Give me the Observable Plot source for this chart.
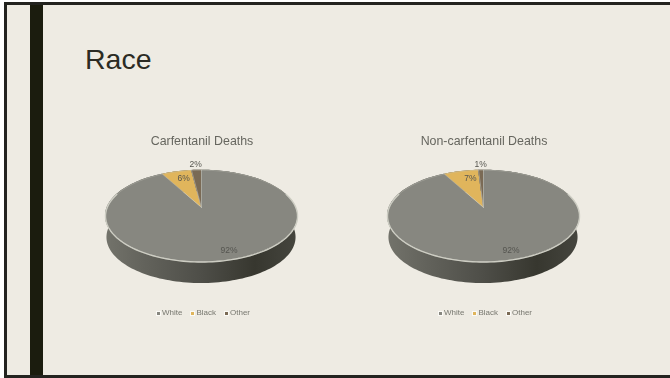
<!DOCTYPE html>
<html>
<head>
<meta charset="utf-8">
<script src="https://cdn.jsdelivr.net/npm/d3@7"></script>
<script src="https://cdn.jsdelivr.net/npm/@observablehq/plot@0.6"></script>
<style>
  html, body { margin: 0; padding: 0; background: #fff; overflow: hidden; }
  #slide { position: absolute; left: 4px; top: 2px; width: 666px; height: 376px; box-sizing: border-box; background: #eeebe3;
           border: 3px solid #23231f; border-right: none; overflow: hidden; font-family: "Liberation Sans", sans-serif; }
  #stripe { position: absolute; left: 23px; top: -3px; width: 13px; height: 380px; background: #1b1c0e; }
  #heading { position: absolute; left: 78px; top: 37px; font-size: 28.5px; line-height: 34px; color: #2b2b24; }
  .panel { position: absolute; top: 0; width: 220px; height: 371px; filter: blur(0.45px); }
  .panel h2 { position: absolute; top: 129px; left: 1.5px; width: 100%; margin: 0; text-align: center; white-space: nowrap;
              font-weight: 400; font-size: 12.4px; line-height: 14px; color: #66665f; }
  .panel svg { position: absolute; left: 0; top: 152px; }
  .legend { position: absolute; top: 303px; left: 2.5px; width: 100%; display: flex; justify-content: center;
            gap: 8px; font-size: 8px; line-height: 10px; color: #77776f; }
  .legend span { display: flex; align-items: center; gap: 1px; }
  .legend i { display: block; width: 3px; height: 3px; border: 1.5px solid #fbfaf6; }
</style>
</head>
<body>
<div id="slide">
  <div id="stripe"></div>
  <div id="heading">Race</div>
</div>
<script>
// Shares of deaths by race, in percent, clockwise from twelve o'clock.
const races = ["White", "Black", "Other"];
const carfentanil = [92, 6, 2];
const nonCarfentanil = [92, 7, 1];
const raceColors = ["#878780", "#e0b55c", "#7a6a55"];

const panels = [
  {title: "Carfentanil Deaths", values: carfentanil, left: 83.5, labelNudge: 2},
  {title: "Non-carfentanil Deaths", values: nonCarfentanil, left: 365.5, labelNudge: 5}
];

// Tilted disc: a perspective view of the unit circle, in screen-sized units.
const radius = 94.3, squash = 44.3, tilt = 0.1873, depth = 21.5;
function project(r, angle) {
  const X = r * Math.sin(angle), Y = r * Math.cos(angle), w = 1 + tilt * Y;
  return [radius * X / w, squash * Y / w];
}
const turn = (p) => (p / 100) * 2 * Math.PI;

function arcPoints(from, to, key) {
  const n = Math.max(4, Math.ceil((to - from) * 2));
  return d3.range(n + 1).map((i) => {
    const [x, y] = project(1, turn(from + ((to - from) * i) / n));
    return {x, y, key};
  });
}

function pie(values, labelNudge) {
  let start = 0;
  const slices = values.map((v, i) => {
    const s = {race: races[i], value: v, from: start, to: start + v, color: raceColors[i]};
    start += v;
    return s;
  });
  const wedgePts = slices.flatMap((s) => arcPoints(s.from, s.to, s.race).map((p) => ({...p, color: s.color})));
  const rim = arcPoints(0, 100, "rim");
  const frontRim = arcPoints(20, 80, "front");
  const spokes = slices.flatMap((s) => {
    const [x, y] = project(1, turn(s.from));
    return [{x: 0, y: 0, key: s.race}, {x, y, key: s.race}];
  });
  const labels = slices.map((s) => {
    const big = s.value > 50, tiny = s.value < 3;
    const r = tiny ? 1.2 : big ? 0.85 : 0.78;
    const [x, y] = project(r, turn((s.from + s.to) / 2));
    return {x: x + (tiny ? 0 : big ? 4 : labelNudge), y, text: `${s.value}%`};
  });
  return Plot.plot({
    width: 220,
    height: 130,
    margin: 0,
    x: {domain: [-110, 110], axis: null},
    y: {domain: [-80, 50], axis: null},
    style: {background: "transparent", overflow: "visible"},
    marks: [
      // Shaded cylinder wall
      () => {
        const svg = d3.create("svg:defs");
        const g = svg.append("linearGradient").attr("id", "wall");
        [[0, "#73736b"], [0.2, "#63635c"], [0.5, "#4e4e48"], [0.78, "#37372f"], [1, "#45453e"]].forEach(([o, c]) =>
          g.append("stop").attr("offset", o).attr("stop-color", c));
        return svg.node();
      },
      Plot.area(rim, {
        x1: "x", y1: "y",
        x2: (d) => d.x * 0.985, y2: (d) => d.y - depth,
        fill: "url(#wall)"
      }),
      // Slices
      Plot.area(wedgePts, {
        x1: "x", y1: "y", x2: () => 0, y2: () => 0,
        z: "key", fill: "color"
      }),
      // Light edge round the disc and between slices
      Plot.line(rim, {x: "x", y: "y", stroke: "#c0c0b5", strokeWidth: 0.6, strokeOpacity: 0.6}),
      Plot.line(frontRim, {x: "x", y: "y", stroke: "#cdcdc3", strokeWidth: 1.4}),
      Plot.line(spokes, {x: "x", y: "y", z: "key", stroke: "#c9c9bf", strokeWidth: 0.5}),
      Plot.text(labels, {
        x: "x", y: "y", text: "text",
        fill: "#55554f", fontSize: 8.5, fontFamily: "Liberation Sans, sans-serif"
      })
    ]
  });
}

const slide = document.getElementById("slide");
for (const p of panels) {
  const panel = document.createElement("div");
  panel.className = "panel";
  panel.style.left = p.left + "px";
  const h = document.createElement("h2");
  h.textContent = p.title;
  panel.append(h, pie(p.values, p.labelNudge));
  const legend = document.createElement("div");
  legend.className = "legend";
  races.forEach((r, i) => {
    const item = document.createElement("span");
    const mark = document.createElement("i");
    mark.style.background = raceColors[i];
    item.append(mark, r);
    legend.append(item);
  });
  panel.append(legend);
  slide.append(panel);
}
</script>
</body>
</html>
